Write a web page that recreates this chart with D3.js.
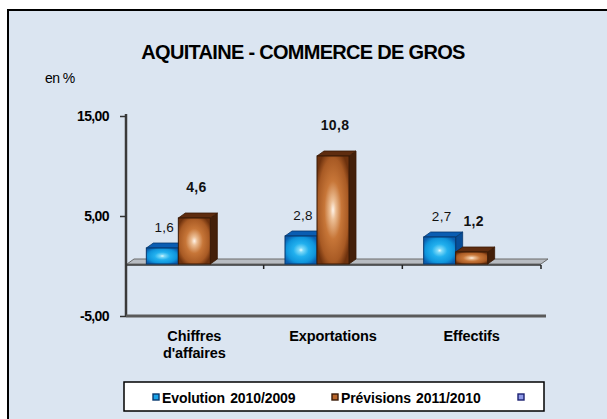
<!DOCTYPE html>
<html><head><meta charset="utf-8">
<script src="https://cdn.jsdelivr.net/npm/d3@7"></script>
<style>body{margin:0;background:#fff}svg{display:block;font-family:"Liberation Sans",Arial,sans-serif}</style>
</head><body><svg id="c" width="607" height="419"></svg>
<script>
const categories = ["Chiffres d'affaires", "Exportations", "Effectifs"];
const seriesNames = ["Evolution 2010/2009", "Prévisions 2011/2010", ""];
const evolution = [1.6, 2.8, 2.7];
const previsions = [4.6, 10.8, 1.2];
const yTicks = [-5, 5, 15];
const title = "AQUITAINE - COMMERCE DE GROS";
const unitLabel = "en %";

const svg = d3.select("#c");
const defs = svg.append("defs");
function radial(id, stops){
  const g = defs.append("radialGradient").attr("id", id).attr("cx","50%").attr("cy","50%").attr("r","60%");
  stops.forEach(s => g.append("stop").attr("offset", s[0]).attr("stop-color", s[1]));
}
radial("gBlue", [[0,"#e6fbff"],[0.12,"#7fdaf8"],[0.4,"#22b0ee"],[0.75,"#0f95dc"],[1,"#0a5fb0"]]);
radial("gOr", [[0,"#fff4ea"],[0.15,"#ecbf96"],[0.45,"#c77638"],[0.8,"#a85a24"],[1,"#6e320e"]]);

// frame
svg.append("rect").attr("x",8).attr("y",10).attr("width",640).attr("height",440)
  .attr("fill","#dbe5f1").attr("stroke","#000").attr("stroke-width",2);

svg.append("text").attr("x",303).attr("y",59).attr("text-anchor","middle")
  .attr("font-size",20).attr("font-weight","bold").attr("letter-spacing",-0.7).text(title);
svg.append("text").attr("x",45).attr("y",83).attr("font-size",14).attr("letter-spacing",-0.6).text(unitLabel);

const y = d3.scaleLinear().domain([-5,15]).range([316,116]);
const x = d3.scaleBand().domain(categories).range([125,541]).padding(0);
const xs = d3.scaleBand().domain([0,1,2]).range([0,96]);
const dx = 7, dy = -5, front = -2;

// y axis
svg.append("line").attr("x1",126).attr("x2",126).attr("y1",y(15)-2).attr("y2",y(-5))
  .attr("stroke","#3a3a3a").attr("stroke-width",2.5);
const fmtTick = d => d3.format(".2f")(d).replace(".", ",").replace("\u2212", "-");
const yAxis = d3.axisLeft(y).tickValues(yTicks).tickSize(6).tickPadding(11).tickFormat(fmtTick);
const ya = svg.append("g").attr("transform","translate(126,0)").call(yAxis);
ya.select(".domain").remove();
ya.selectAll("line").attr("stroke","#333").attr("stroke-width",1.5);
ya.selectAll("text").attr("font-size",14).attr("font-weight","bold").attr("fill","#000")
  .attr("font-family","Liberation Sans, Arial, sans-serif").attr("letter-spacing",-0.6);

// bottom line at -5
svg.append("line").attr("x1",126).attr("x2",546).attr("y1",y(-5)).attr("y2",y(-5))
  .attr("stroke","#5a5a5a").attr("stroke-width",3);

// floor at 0
const z = y(0) + front;
const x0 = x.range()[0]+2, x1 = x.range()[1];
svg.append("path").attr("d",`M${x0},${z}L${x1},${z}L${x1+dx},${z+dy}L${x0+dx},${z+dy}Z`)
  .attr("fill","#b8bcc2").attr("stroke","#6a6a6a").attr("stroke-width",1);
svg.append("line").attr("x1",126).attr("x2",x1).attr("y1",z+1).attr("y2",z+1).attr("stroke","#333").attr("stroke-width",1.5);
categories.forEach((c,i)=>{
  const bx = x(c)+x.bandwidth();
  svg.append("line").attr("x1",bx).attr("x2",bx).attr("y1",z+1).attr("y2",z+5).attr("stroke","#222").attr("stroke-width",1.5);
});

// bars
const series = [
  {vals: evolution, fill:"url(#gBlue)", top:"#0a5db2", side:"#084e98", stroke:"#06386e", bold:false, off:16, fs:13.5},
  {vals: previsions, fill:"url(#gOr)", top:"#5e2c0f", side:"#44200a", stroke:"#3a1a06", bold:true, off:26, fs:14}
];
series.forEach((s,si)=>{
  const g = svg.append("g");
  categories.forEach((c,i)=>{
    const v = s.vals[i];
    const bx = x(c) + x.bandwidth()/2 - 48 + xs(si);
    const w = xs.bandwidth();
    const top = y(v) + front;
    g.append("path").attr("d",`M${bx+w},${top}L${bx+w+dx},${top+dy}L${bx+w+dx},${z+dy}L${bx+w},${z}Z`)
      .attr("fill",s.side).attr("stroke",s.stroke).attr("stroke-width",0.8);
    g.append("path").attr("d",`M${bx},${top}L${bx+dx},${top+dy}L${bx+w+dx},${top+dy}L${bx+w},${top}Z`)
      .attr("fill",s.top).attr("stroke",s.stroke).attr("stroke-width",0.8);
    g.append("rect").attr("x",bx).attr("y",top).attr("width",w).attr("height",z-top)
      .attr("fill",s.fill).attr("stroke",s.stroke).attr("stroke-width",1);
    g.append("text").attr("x",bx+w/2+2).attr("y",top - s.off).attr("text-anchor","middle")
      .attr("font-size",s.fs).attr("font-weight",s.bold?"bold":"normal").attr("fill","#111")
      .attr("letter-spacing",0.3)
      .text(d3.format(".1f")(v).replace(".", ","));
  });
});

// category labels
const lines = {"Chiffres d'affaires":["Chiffres","d'affaires"]};
categories.forEach(c=>{
  const cx = x(c)+x.bandwidth()/2;
  const t = svg.append("text").attr("x",cx).attr("y",341).attr("text-anchor","middle")
    .attr("font-size",14.5).attr("font-weight","bold").attr("letter-spacing",-0.1);
  (lines[c]||[c]).forEach((l,k)=>t.append("tspan").attr("x",cx).attr("dy",k?17:0).text(l));
});

// legend
svg.append("rect").attr("x",124).attr("y",382).attr("width",420).attr("height",29)
  .attr("fill","#fff").attr("stroke","#000").attr("stroke-width",1.5);
const legendItems = [
  {x:153, fill:"#1aa3e8", stroke:"#06386e", name:seriesNames[0]},
  {x:332, fill:"#b8662c", stroke:"#3a1a06", name:seriesNames[1]},
  {x:518, fill:"#8f9ae8", stroke:"#1a2070", name:seriesNames[2]}
];
legendItems.forEach(d=>{
  svg.append("rect").attr("x",d.x).attr("y",394).attr("width",6).attr("height",6)
    .attr("fill",d.fill).attr("stroke",d.stroke).attr("stroke-width",1.4);
  if (d.name) svg.append("text").attr("x",d.x+9).attr("y",403).attr("font-size",14)
    .attr("font-weight","bold").attr("letter-spacing",-0.1).attr("word-spacing",1.5).text(d.name);
});
</script></body></html>
